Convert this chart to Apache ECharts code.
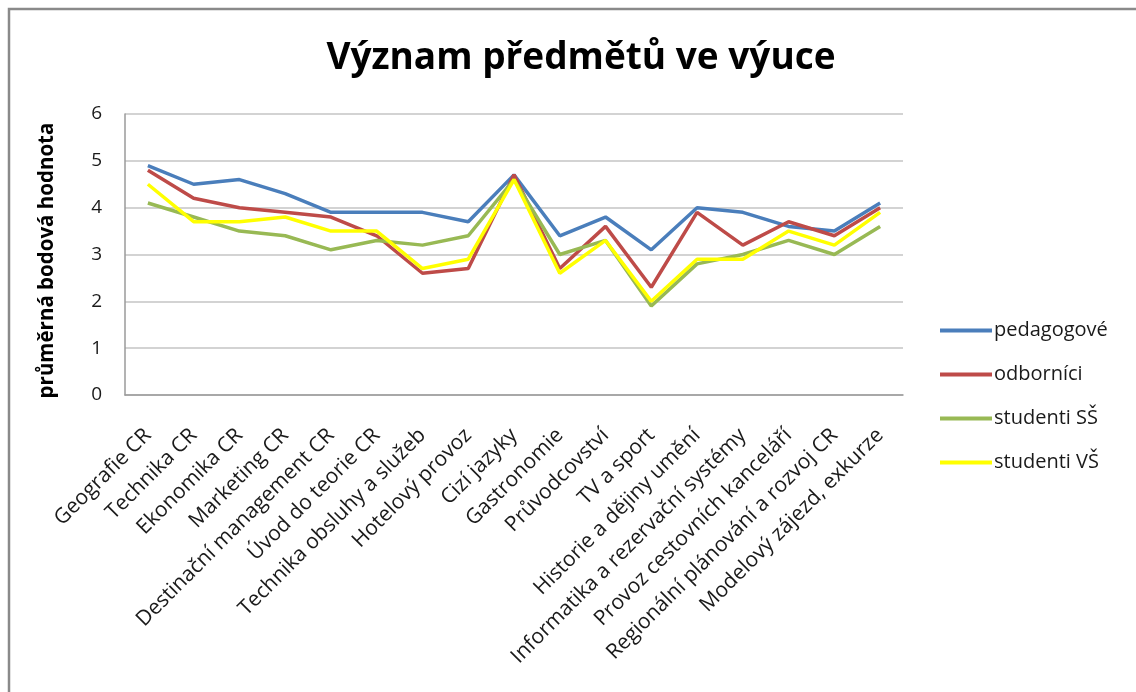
<!DOCTYPE html>
<html>
<head>
<meta charset="utf-8">
<script src="https://cdn.jsdelivr.net/npm/echarts@6/dist/echarts.min.js"></script>
<style>
  html, body { margin: 0; padding: 0; background: #fff; }
  #chart { width: 1136px; height: 692px; }
</style>
</head>
<body>
<div id="chart"></div>
<script>
const categories = [
  'Geografie CR', 'Technika CR', 'Ekonomika CR', 'Marketing CR',
  'Destinační management CR', 'Úvod do teorie CR', 'Technika obsluhy a služeb',
  'Hotelový provoz', 'Cizí jazyky', 'Gastronomie', 'Průvodcovství', 'TV a sport',
  'Historie a dějiny umění', 'Informatika a rezervační systémy',
  'Provoz cestovních kanceláří', 'Regionální plánování a rozvoj CR',
  'Modelový zájezd, exkurze'
]
const pedagogove = [4.9, 4.5, 4.6, 4.3, 3.9, 3.9, 3.9, 3.7, 4.7, 3.4, 3.8, 3.1, 4.0, 3.9, 3.6, 3.5, 4.1]
const odbornici  = [4.8, 4.2, 4.0, 3.9, 3.8, 3.4, 2.6, 2.7, 4.7, 2.7, 3.6, 2.3, 3.9, 3.2, 3.7, 3.4, 4.0]
const studentiSS = [4.1, 3.8, 3.5, 3.4, 3.1, 3.3, 3.2, 3.4, 4.6, 3.0, 3.3, 1.9, 2.8, 3.0, 3.3, 3.0, 3.6]
const studentiVS = [4.5, 3.7, 3.7, 3.8, 3.5, 3.5, 2.7, 2.9, 4.6, 2.6, 3.3, 2.0, 2.9, 2.9, 3.5, 3.2, 3.9]
const seriesNames = ['pedagogové', 'odborníci', 'studenti SŠ', 'studenti VŠ']

const FONT = '"Open Sans", sans-serif'
const C = { grid: '#c4c4c4', axis: '#9a9a9a', text: '#1a1a1a' }
const colors = ['#4a7ebb', '#be4b48', '#98b954', '#ffff00']

const chart = echarts.init(document.getElementById('chart'), null, { renderer: 'canvas' })

const lineSeries = (name, data, i) => ({
  name,
  type: 'line',
  data,
  symbol: 'none',
  smooth: false,
  lineStyle: { width: 3.5, color: colors[i] },
  itemStyle: { color: colors[i] },
})

chart.setOption({
  animation: false,
  textStyle: { fontFamily: FONT },
  title: {
    text: 'Význam předmětů ve výuce',
    left: 576,
    textAlign: 'center',
    top: 35,
    textStyle: { fontFamily: FONT, fontSize: 37, fontWeight: 'bold', color: '#000' },
  },
  graphic: [{
    type: 'rect',
    shape: { x: 9, y: 9, width: 1300, height: 900 },
    style: { fill: 'none', stroke: '#8a8a8a', lineWidth: 2.5 },
    silent: true,
  }],
  legend: {
    orient: 'vertical',
    left: 935,
    top: 315,
    icon: 'rect',
    itemWidth: 52,
    itemHeight: 4,
    itemGap: 23,
    textStyle: { fontFamily: FONT, fontSize: 20, color: C.text, lineHeight: 21, padding: [0, 0, 0, -3] },
    data: seriesNames,
  },
  grid: { left: 125, top: 114, width: 778, height: 281, containLabel: false },
  xAxis: {
    type: 'category',
    data: categories,
    boundaryGap: true,
    axisLine: { lineStyle: { color: C.axis, width: 1.5 } },
    axisTick: { show: false },
    axisLabel: {
      rotate: 45,
      interval: 0,
      margin: 37,
      verticalAlign: 'middle',
      fontFamily: FONT,
      fontSize: 21,
      color: C.text,
    },
  },
  yAxis: {
    type: 'value',
    min: 0,
    max: 6,
    interval: 1,
    name: 'průměrná bodová hodnota',
    nameLocation: 'middle',
    nameGap: 67,
    nameTextStyle: { fontFamily: FONT, fontSize: 20.5, fontWeight: 'bold', color: '#000', padding: [0, 12, 0, 0] },
    axisLine: { show: true, lineStyle: { color: C.axis, width: 1.5 } },
    axisTick: { show: false },
    axisLabel: { margin: 23, fontFamily: FONT, fontSize: 19, color: C.text },
    splitLine: { lineStyle: { color: C.grid, width: 1.5 } },
  },
  series: [
    lineSeries(seriesNames[0], pedagogove, 0),
    lineSeries(seriesNames[1], odbornici, 1),
    lineSeries(seriesNames[2], studentiSS, 2),
    lineSeries(seriesNames[3], studentiVS, 3),
  ],
})
</script>
</body>
</html>
